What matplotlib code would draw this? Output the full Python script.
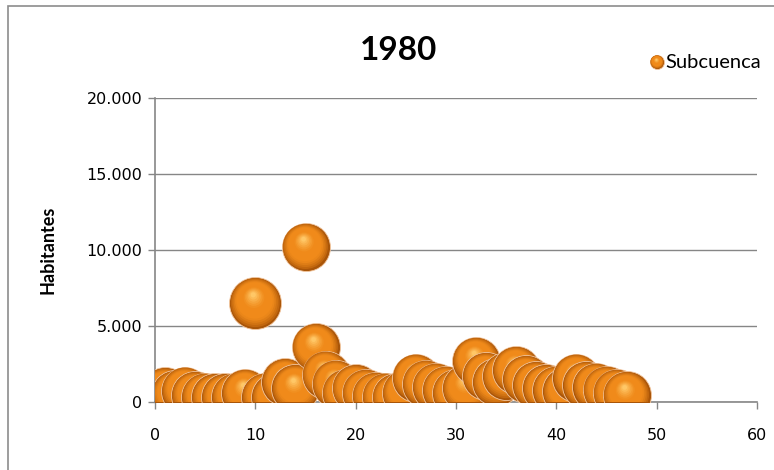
import numpy as np
import matplotlib
matplotlib.use("Agg")
import matplotlib.pyplot as plt
import matplotlib.transforms as mtransforms
from matplotlib.colors import to_rgb
from matplotlib.patches import Rectangle

# ---------------------------
# Datos
# ---------------------------
subcuenca = list(range(1, 48))
habitantes = [700, 500, 750, 450, 350, 300, 300, 350, 600, 6500,
              350, 300, 1300, 900, 10200, 3600, 1800, 1200, 600, 900,
              600, 400, 350, 300, 600, 1600, 1200, 1000, 800, 600,
              900, 2700, 1700, 1300, 1700, 2100, 1500, 1100, 900, 800,
              700, 1600, 1100, 1000, 800, 600, 450]
x_ticks = [0, 10, 20, 30, 40, 50, 60]
y_ticks = [0, 5000, 10000, 15000, 20000]
y_labels = ["0", "5.000", "10.000", "15.000", "20.000"]

DPI = 100
W, H = 774, 470

c_rim = np.array(to_rgb("#a95508"))
c_mid = np.array(to_rgb("#f08a1a"))
c_hi = np.array(to_rgb("#ffc766"))


def esfera(ax, x, y, r_px, z, transform=None, clip=True):
    # esfera tipo Excel: círculos concéntricos que se desplazan hacia el brillo
    base = transform if transform is not None else ax.transData
    n = 16
    for k in range(n):
        t = k / (n - 1)
        rad = r_px * (1 - 0.9 * t)
        dx = -0.08 * r_px * t
        dy = 0.32 * r_px * t
        if t < 0.3:
            col = c_rim + (c_mid - c_rim) * (t / 0.3) ** 0.7
        elif t < 0.6:
            col = c_mid
        else:
            col = c_mid + (c_hi - c_mid) * ((t - 0.6) / 0.4) ** 1.3
        tr = base + mtransforms.Affine2D().translate(dx, dy)
        d_pt = 2 * rad * 72 / DPI
        if k == 0:
            kw = dict(edgecolors="#f3c7a0", linewidths=0.6)
        else:
            kw = dict(edgecolors="none")
        ax.scatter([x], [y], s=d_pt ** 2, color=col, transform=tr,
                   zorder=z + k * 0.001, clip_on=clip, **kw)


fig = plt.figure(figsize=(W / DPI, H / DPI), dpi=DPI)
ax = fig.add_axes([155 / W, 68 / H, 602 / W, 304 / H])

for i, (xv, yv) in enumerate(zip(subcuenca, habitantes)):
    r = 26 if yv == 6500 else 24
    esfera(ax, xv, yv, r, 3 + i * 0.05)

ax.set_xlim(0, 60)
ax.set_ylim(0, 20000)
ax.set_xticks(x_ticks)
ax.set_yticks(y_ticks)
ax.set_yticklabels(y_labels)
ax.tick_params(labelsize=11.5, colors="#000000", length=5, width=1,
               color="#868686", pad=4)
ax.tick_params(axis="x", pad=14)

ax.grid(axis="y", color="#868686", linewidth=1)
ax.set_axisbelow(True)
for s in ["top", "right"]:
    ax.spines[s].set_visible(False)
for s in ["left", "bottom"]:
    ax.spines[s].set_color("#868686")
    ax.spines[s].set_linewidth(1.2)

ax.set_ylabel("Habitantes", fontsize=13, fontweight="bold",
              family="Lato", labelpad=22)

fig.text(399 / W, 1 - 50 / H, "1980", fontsize=24, fontweight="bold",
         family="Lato", ha="center", va="center")

# Leyenda
esfera(ax, (657 - 155) / 602, (402 - 62) / 304, 7, 20,
       transform=ax.transAxes, clip=False)
fig.text(665 / W, 1 - 62 / H, "Subcuenca", fontsize=14.5, family="Lato",
         ha="left", va="center")

# Borde del gráfico
fig.add_artist(Rectangle((8 / W, -0.1), 1.0, 1.1 - 6 / H,
                         transform=fig.transFigure, fill=False,
                         edgecolor="#8c8c8c", linewidth=1.2))

fig.savefig("out.png", dpi=DPI)
